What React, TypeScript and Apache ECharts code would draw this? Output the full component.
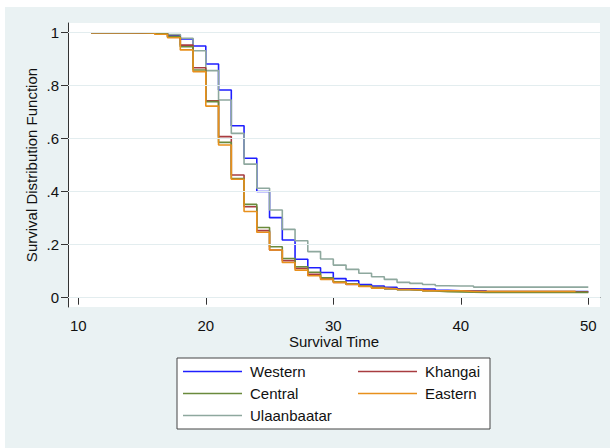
import * as echarts from 'echarts';
import { useEffect, useRef } from 'react';

const TIME = [
  11, 12, 13, 14, 15, 16, 17, 18, 19, 20, 21, 22, 23, 24, 25, 26, 27, 28, 29, 30,
  31, 32, 33, 34, 35, 36, 37, 38, 39, 40, 41, 42, 43, 44, 45, 46, 47, 48, 49, 50,
];

const WESTERN = [
  1, 1, 1, 1, 1, 0.997, 0.991, 0.976, 0.95, 0.882, 0.784, 0.649, 0.526, 0.401, 0.302, 0.218,
  0.145, 0.113, 0.095, 0.072, 0.064, 0.05, 0.044, 0.039, 0.034, 0.033, 0.033, 0.028, 0.026,
  0.026, 0.026, 0.023, 0.023, 0.023, 0.023, 0.023, 0.023, 0.023, 0.023, 0.023,
];
const KHANGAI = [
  1, 1, 1, 0.999, 0.999, 0.996, 0.985, 0.953, 0.868, 0.743, 0.608, 0.463, 0.343, 0.253, 0.18,
  0.14, 0.111, 0.088, 0.073, 0.058, 0.05, 0.043, 0.038, 0.034, 0.031, 0.029, 0.027, 0.026,
  0.025, 0.024, 0.022, 0.022, 0.022, 0.022, 0.022, 0.022, 0.022, 0.022, 0.022, 0.022,
];
const CENTRAL = [
  1, 1, 1, 1, 0.999, 0.996, 0.985, 0.947, 0.859, 0.74, 0.586, 0.45, 0.352, 0.265, 0.192,
  0.148, 0.117, 0.096, 0.075, 0.06, 0.052, 0.044, 0.038, 0.034, 0.03, 0.028, 0.025, 0.023,
  0.022, 0.021, 0.02, 0.02, 0.02, 0.02, 0.02, 0.02, 0.02, 0.02, 0.02, 0.02,
];
// Eastern ends at t = 49
const EASTERN = [
  1, 1, 1, 1, 0.999, 0.994, 0.981, 0.935, 0.853, 0.723, 0.576, 0.447, 0.325, 0.247, 0.18,
  0.133, 0.104, 0.083, 0.069, 0.058, 0.051, 0.042, 0.036, 0.034, 0.031, 0.029, 0.026, 0.026,
  0.026, 0.024, 0.024, 0.024, 0.024, 0.024, 0.024, 0.024, 0.024, 0.024, 0.024,
];
const ULAANBAATAR = [
  1, 1, 1, 1, 1, 0.998, 0.993, 0.979, 0.932, 0.857, 0.746, 0.62, 0.504, 0.413, 0.331, 0.258,
  0.215, 0.174, 0.146, 0.123, 0.107, 0.092, 0.079, 0.069, 0.058, 0.054, 0.05, 0.045, 0.044,
  0.044, 0.04, 0.04, 0.04, 0.04, 0.04, 0.04, 0.04, 0.04, 0.04, 0.04,
];

const X_TICKS = [10, 20, 30, 40, 50];
const Y_TICKS = [0, 0.2, 0.4, 0.6, 0.8, 1];

// drawing order: later entries end up on top
const SERIES = [
  { name: 'Western', values: WESTERN, color: '#1f1fff' },
  { name: 'Ulaanbaatar', values: ULAANBAATAR, color: '#8ea89e' },
  { name: 'Khangai', values: KHANGAI, color: '#a83c40' },
  { name: 'Central', values: CENTRAL, color: '#6a8a3c' },
  { name: 'Eastern', values: EASTERN, color: '#e8901c' },
];

// legend layout: two columns, filled row by row
const LEGEND_ORDER = ['Western', 'Khangai', 'Central', 'Eastern', 'Ulaanbaatar'];

const FONT = '"Liberation Sans", Arial, sans-serif';

export default function App() {
  const ref = useRef<HTMLDivElement | null>(null);

  useEffect(() => {
    document.body.style.margin = '0';
    if (!ref.current) return undefined;
    const chart = echarts.init(ref.current, undefined, { renderer: 'svg' });

    const legendItems: any[] = [];
    LEGEND_ORDER.forEach((name, i) => {
      const s = SERIES.find((d) => d.name === name)!;
      const col = i % 2;
      const row = Math.floor(i / 2);
      const x0 = col === 0 ? 183 : 358;
      const y = 371.5 + row * 22;
      legendItems.push({
        type: 'line',
        shape: { x1: x0, y1: y, x2: x0 + 59, y2: y },
        style: { stroke: s.color, lineWidth: 1.6 },
      });
      legendItems.push({
        type: 'text',
        x: x0 + 67,
        y,
        style: {
          text: name,
          font: `15px ${FONT}`,
          fill: '#111',
          verticalAlign: 'middle',
          align: 'left',
        },
      });
    });

    chart.setOption({
      animation: false,
      textStyle: { fontFamily: FONT },
      graphic: [
        {
          type: 'rect',
          z: -10,
          shape: { x: 5, y: 7, width: 605, height: 441 },
          style: { fill: '#eaf2f3' },
        },
        {
          type: 'rect',
          shape: { x: 177, y: 358, width: 313, height: 71 },
          style: { fill: '#fff', stroke: '#444', lineWidth: 1 },
        },
        ...legendItems,
      ],
      grid: {
        left: 68,
        right: 10,
        top: 23,
        bottom: 141,
        show: true,
        backgroundColor: '#fff',
        borderWidth: 0,
      },
      xAxis: {
        type: 'value',
        min: 9.192,
        max: 50.918,
        name: 'Survival Time',
        nameLocation: 'middle',
        nameGap: 27,
        nameMoveOverlap: false,
        nameTextStyle: { fontSize: 15, lineHeight: 15, color: '#111', fontFamily: FONT },
        axisLine: { show: true, lineStyle: { color: '#333', width: 1 } },
        axisTick: {
          show: true,
          length: 7,
          customValues: X_TICKS,
          lineStyle: { color: '#333' },
        },
        axisLabel: {
          customValues: X_TICKS,
          fontSize: 15,
          lineHeight: 15,
          color: '#111',
          margin: 11,
          fontFamily: FONT,
        },
        splitLine: { show: false },
      },
      yAxis: {
        type: 'value',
        min: -0.0351,
        max: 1.0366,
        name: 'Survival Distribution Function',
        nameLocation: 'middle',
        nameGap: 29.5,
        nameMoveOverlap: false,
        nameTextStyle: { fontSize: 15, color: '#111', fontFamily: FONT },
        axisLine: { show: true, lineStyle: { color: '#333', width: 1 } },
        axisTick: {
          show: true,
          length: 7,
          customValues: Y_TICKS,
          lineStyle: { color: '#333' },
        },
        axisLabel: {
          customValues: Y_TICKS,
          fontSize: 15,
          color: '#111',
          margin: 9,
          fontFamily: FONT,
          formatter: (v: number) => (v === 0 ? '0' : v === 1 ? '1' : String(v).replace(/^0/, '')),
        },
        splitLine: { show: false },
      },
      series: [
        {
          type: 'line',
          data: [],
          z: 1,
          silent: true,
          markLine: {
            silent: true,
            symbol: 'none',
            label: { show: false },
            lineStyle: { color: '#e3edef', width: 1, type: 'solid' },
            data: Y_TICKS.map((v) => ({ yAxis: v })),
          },
        },
        ...SERIES.map((s) => ({
          type: 'line',
          name: s.name,
          step: 'end',
          z: 2,
          showSymbol: false,
          symbol: 'none',
          data: s.values.map((v, i) => [TIME[i], v]),
          lineStyle: { color: s.color, width: 1.6 },
          itemStyle: { color: s.color },
        })),
      ],
    });

    return () => {
      chart.dispose();
    };
  }, []);

  return <div ref={ref} style={{ width: 610, height: 448 }} />;
}
